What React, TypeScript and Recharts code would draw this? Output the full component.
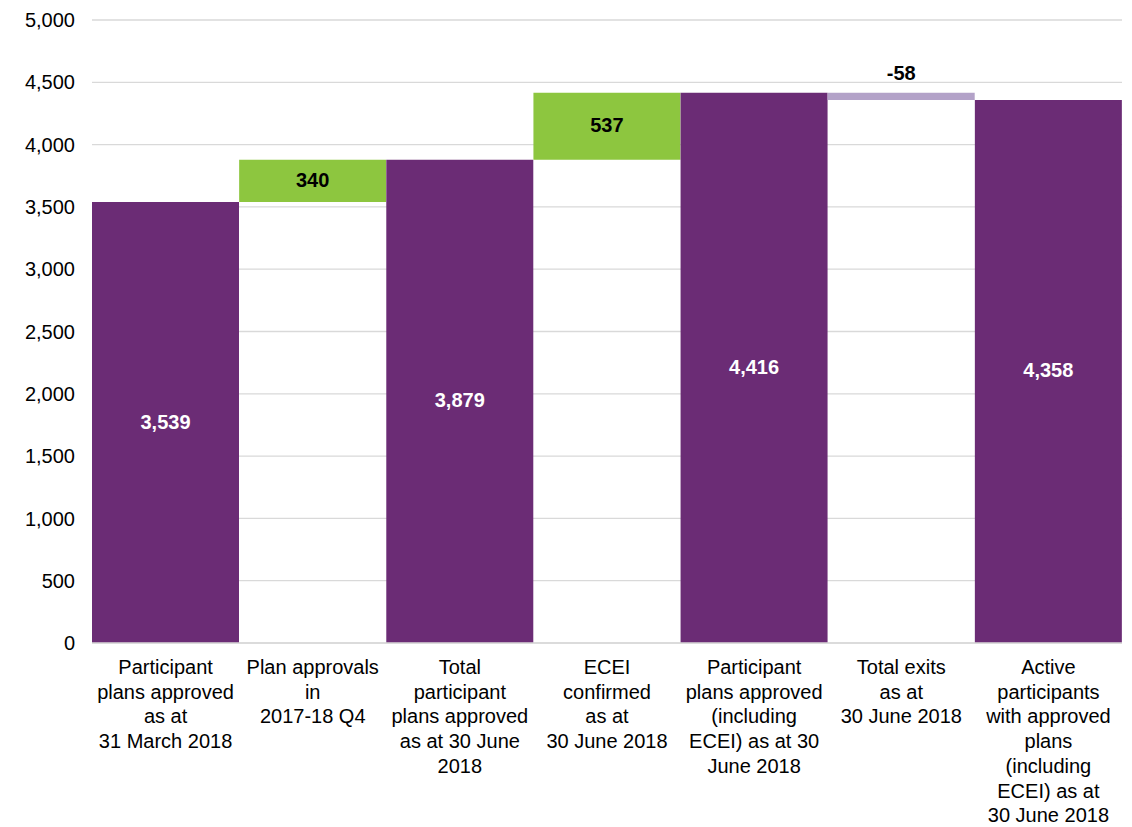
import React from 'react';
import { BarChart, Bar, XAxis, YAxis, CartesianGrid, Cell, LabelList } from 'recharts';

const categories = ['start', 'q4', 'june', 'ecei', 'inclEcei', 'exits', 'active'];
const tickLabels = [
    ['Participant', 'plans approved', 'as at', '31 March 2018'],
    ['Plan approvals', 'in', '2017-18 Q4'],
    ['Total', 'participant', 'plans approved', 'as at 30 June', '2018'],
    ['ECEI', 'confirmed', 'as at', '30 June 2018'],
    ['Participant', 'plans approved', '(including', 'ECEI) as at 30', 'June 2018'],
    ['Total exits', 'as at', '30 June 2018'],
    ['Active', 'participants', 'with approved', 'plans', '(including', 'ECEI) as at', '30 June 2018'],
];
const values = [3539, 340, 3879, 537, 4416, -58, 4358];
const kinds = ['total', 'increase', 'total', 'increase', 'total', 'decrease', 'total'];
const yTicks = [0, 500, 1000, 1500, 2000, 2500, 3000, 3500, 4000, 4500, 5000];

const colors: Record<string, string> = {
    total: '#6b2c75',
    increase: '#8dc63f',
    decrease: '#b3a2c8',
};

// build the stacked waterfall rows (invisible base + visible step)
let running = 0;
const data = categories.map((c, i) => {
    const v = values[i];
    let base = 0;
    let step = v;
    if (kinds[i] === 'total') {
        running = v;
    } else if (v >= 0) {
        base = running;
        running += v;
    } else {
        running += v;
        base = running;
        step = -v;
    }
    return { name: c, base, step, label: v };
});

const font = 'Liberation Sans, Arial, sans-serif';

const XTick = (props: any) => {
    const { x, y, payload } = props;
    const lines = tickLabels[payload.index] || [];
    return (
        <text x={x} y={y + 23} textAnchor="middle" fill="#000" fontSize={20} fontFamily={font}>
            {lines.map((l, i) => (
                <tspan key={i} x={x} dy={i === 0 ? 0 : 24.7}>{l}</tspan>
            ))}
        </text>
    );
};

const StepLabel = (props: any) => {
    const { x, y, width, height, index } = props;
    const kind = kinds[index];
    const v = values[index];
    const text = v.toLocaleString('en-US');
    if (kind === 'decrease') {
        return (
            <text x={x + width / 2} y={y - 13} textAnchor="middle" fontSize={20} fontWeight="bold" fill="#000" fontFamily={font}>
                {text}
            </text>
        );
    }
    return (
        <text x={x + width / 2} y={y + height / 2 + 6} textAnchor="middle" fontSize={20} fontWeight="bold"
            fill={kind === 'total' ? '#fff' : '#000'} fontFamily={font}>
            {text}
        </text>
    );
};

const App = () => {
    return (
        <div style={{ position: 'absolute', left: 0, top: 0, background: '#fff' }}>
            <BarChart width={1132} height={827} data={data} barCategoryGap={0}
                margin={{ top: 20, right: 10, bottom: 0, left: 0 }}>
                <CartesianGrid vertical={false} stroke="#d9d9d9" strokeWidth={1.3} />
                <XAxis dataKey="name" height={184} axisLine={{ stroke: '#d9d9d9', strokeWidth: 1.5 }} tickLine={false}
                    interval={0} tick={<XTick />} />
                <YAxis domain={[0, 5000]} ticks={yTicks} width={92} axisLine={false} tickLine={false}
                    tickMargin={11} tickFormatter={(v: number) => v.toLocaleString('en-US')}
                    tick={{ fontSize: 20, fill: '#000', fontFamily: font }} />
                <Bar dataKey="base" stackId="w" fill="transparent" isAnimationActive={false} />
                <Bar dataKey="step" stackId="w" isAnimationActive={false}>
                    {data.map((d, i) => (
                        <Cell key={d.name} fill={colors[kinds[i]]} />
                    ))}
                    <LabelList dataKey="label" content={<StepLabel />} />
                </Bar>
            </BarChart>
        </div>
    );
};

export default App;
